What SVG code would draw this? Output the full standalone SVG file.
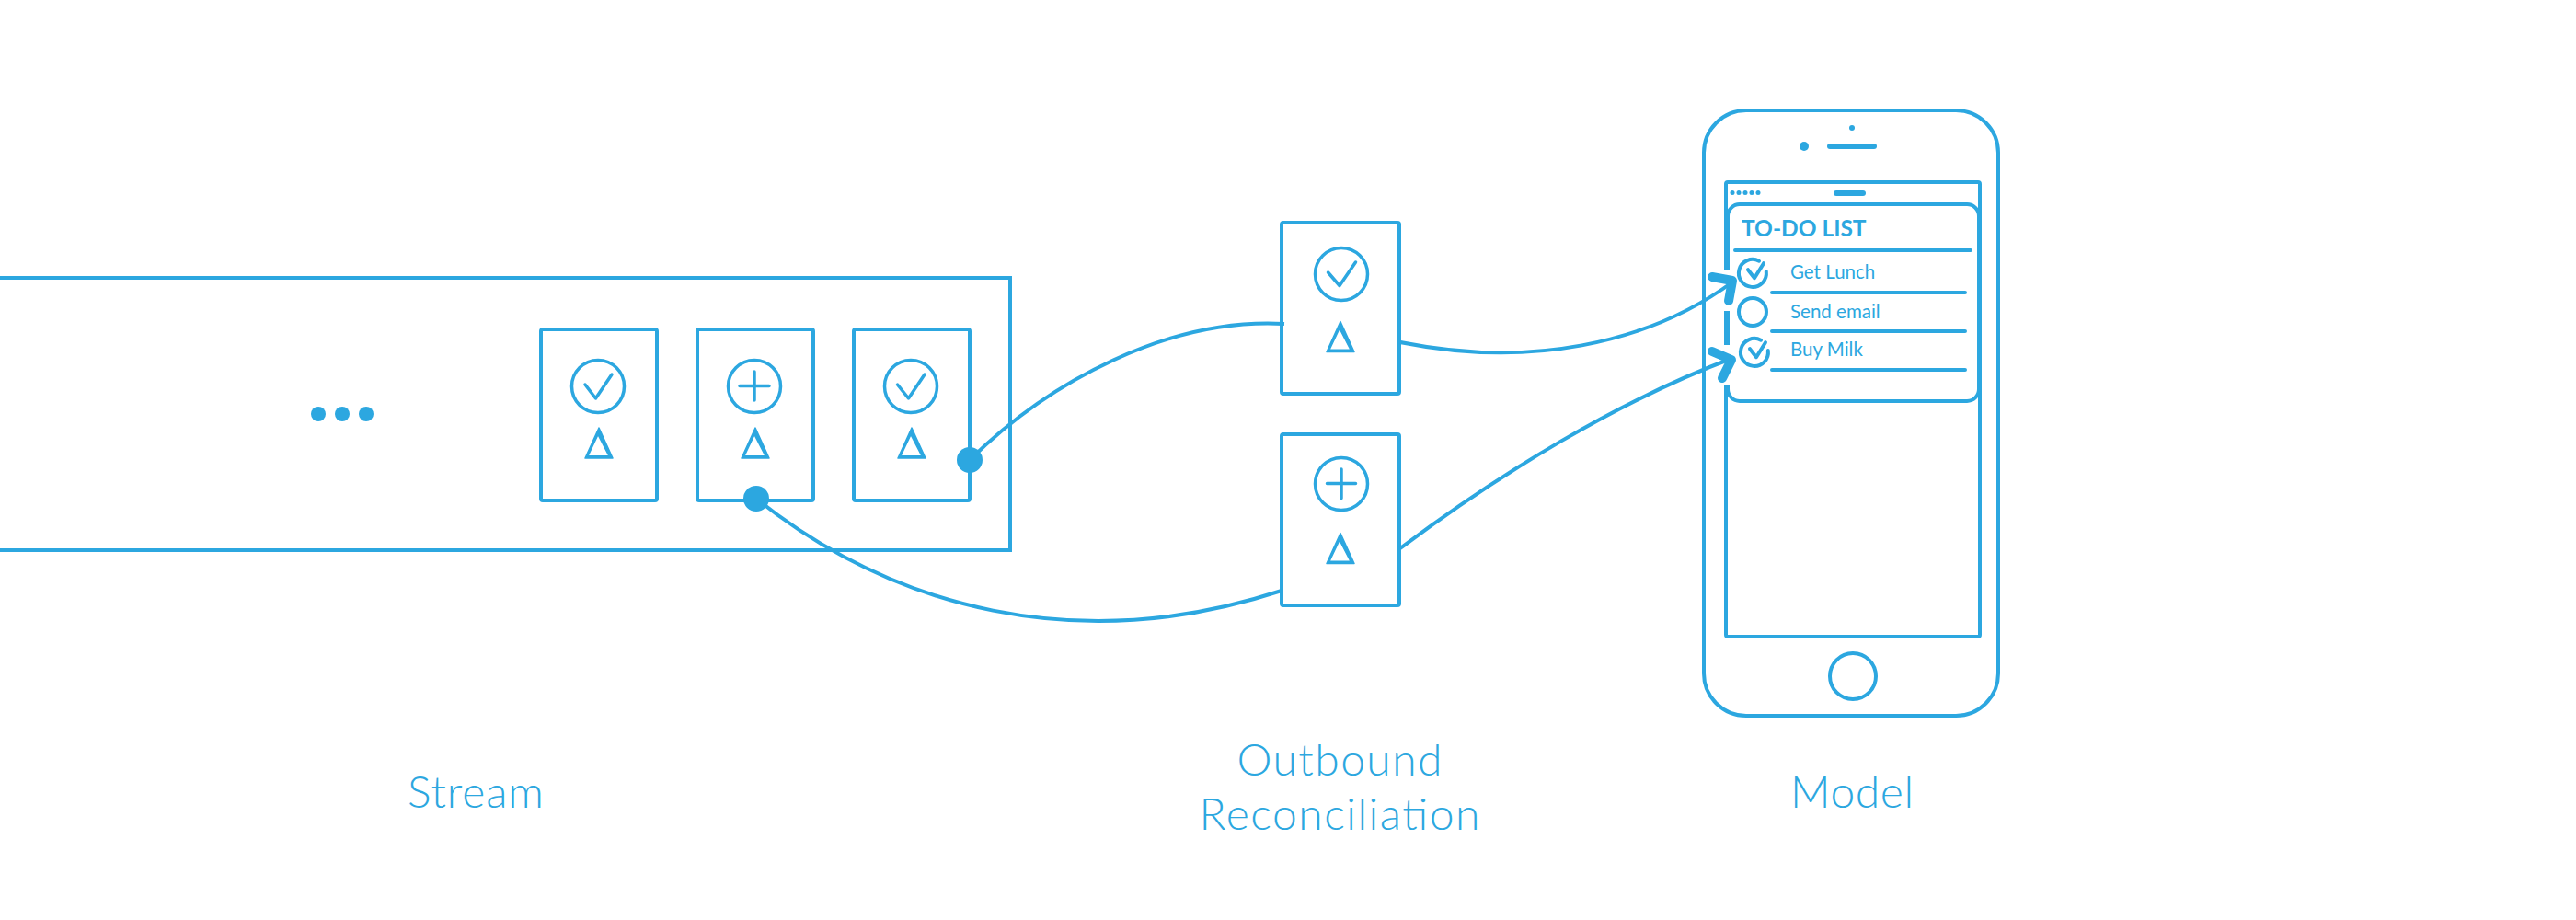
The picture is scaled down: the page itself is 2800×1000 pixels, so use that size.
<svg xmlns="http://www.w3.org/2000/svg" xmlns:xlink="http://www.w3.org/1999/xlink" width="2800" height="1000" viewBox="0 0 2800 1000">
<style>
.s{fill:none;stroke:#2ca7e0;stroke-width:4;stroke-linecap:round;stroke-linejoin:round}
.t3{stroke-width:3.5}
.f{fill:#2ca7e0}
.lbl{font-family:"Lato","Noto Sans",sans-serif;font-weight:300;font-size:48px;fill:#2ca7e0;text-anchor:middle}
.item{font-family:"Lato","Noto Sans",sans-serif;font-weight:400;font-size:20.5px;fill:#2ca7e0}
.head{font-family:"Lato","Noto Sans",sans-serif;font-weight:700;font-size:24.5px;fill:#2ca7e0}
.conn{fill:none;stroke:#2ca7e0;stroke-width:4;stroke-linecap:butt}
.arrow{fill:none;stroke:#2ca7e0;stroke-width:10;stroke-linecap:round;stroke-linejoin:round}
</style>
<defs>
<path id="tri" class="f" fill-rule="evenodd" stroke="#2ca7e0" stroke-width="1.5" stroke-linejoin="round" d="M0 0L-15 33H15Z M-1 7.500L-12 30.700H11Z"/>
<path id="tick" class="s" d="M0 0A15 15 0 1 0 7.800 11.300M-12 9.500L-5 18.500L5 2.500"/>
</defs>
<rect width="2800" height="1000" fill="#fff"/>
<g id="stream">
<path class="s" style="stroke-linejoin:miter" d="M-5 302H1098V598H-5"/>
<circle class="f" cx="346" cy="450" r="8"/><circle class="f" cx="372" cy="450" r="8"/><circle class="f" cx="398" cy="450" r="8"/>
</g>
<g id="stream-item-1">
<rect class="s" x="588" y="358" width="126" height="186" rx="2"/>
<circle class="s t3" cx="650" cy="420" r="28.500"/>
<path class="s t3" d="M636 418L647.500 433L665 407"/>
<use xlink:href="#tri" href="#tri" x="651" y="465"/>
</g>
<g id="stream-item-2">
<rect class="s" x="758" y="358" width="126" height="186" rx="2"/>
<circle class="s t3" cx="820" cy="420" r="28.500"/>
<path class="s t3" d="M804 419.500H836M820 404V435"/>
<use xlink:href="#tri" href="#tri" x="821" y="465"/>
</g>
<g id="stream-item-3">
<rect class="s" x="928" y="358" width="126" height="186" rx="2"/>
<circle class="s t3" cx="990" cy="420" r="28.500"/>
<path class="s t3" d="M975.500 418L987.500 433L1005 407"/>
<use xlink:href="#tri" href="#tri" x="991" y="465"/>
</g>
<g id="reconcile-1">
<rect class="s" x="1393" y="242" width="128" height="186" rx="2"/>
<circle class="s t3" cx="1458" cy="298" r="28.500"/>
<path class="s t3" d="M1443.500 296L1456 310.500L1473.500 285"/>
<use xlink:href="#tri" href="#tri" x="1457" y="349.500"/>
</g>
<g id="reconcile-2">
<rect class="s" x="1393" y="472" width="128" height="186" rx="2"/>
<circle class="s t3" cx="1458" cy="526" r="28.500"/>
<path class="s t3" d="M1442.500 525.500H1473.500M1458 510V541.500"/>
<use xlink:href="#tri" href="#tri" x="1457" y="579.500"/>
</g>
<g id="phone">
<rect class="s" x="1852" y="120" width="320" height="658" rx="46"/>
<circle class="f" cx="1961" cy="159" r="5"/>
<path class="s" style="stroke-width:6" d="M1989 159H2037"/>
<circle class="f" cx="2013" cy="139" r="3"/>
<rect class="s" x="1876" y="198" width="276" height="494" rx="2"/>
<circle class="f" cx="1883" cy="209.500" r="2.500"/><circle class="f" cx="1890" cy="209.500" r="2.500"/><circle class="f" cx="1897" cy="209.500" r="2.500"/><circle class="f" cx="1904" cy="209.500" r="2.500"/><circle class="f" cx="1911" cy="209.500" r="2.500"/>
<path class="s" style="stroke-width:6" d="M1996 210H2025"/>
<rect class="s" x="1878" y="222" width="273" height="214" rx="13"/>
<rect x="1873" y="293" width="8" height="45" fill="#fff"/>
<rect x="1873" y="375" width="8" height="44" fill="#fff"/>
<text class="head" x="1893" y="257">TO-DO LIST</text>
<path class="s" d="M1886 272H2142M1926 318H2136M1926 360H2136M1926 402H2136"/>
<use xlink:href="#tick" href="#tick" x="1912" y="283.700"/>
<circle class="s" cx="1905" cy="339" r="15"/>
<use xlink:href="#tick" href="#tick" x="1914" y="369.700"/>
<text class="item" x="1946" y="303">Get Lunch</text>
<text class="item" x="1946" y="346">Send email</text>
<text class="item" x="1946" y="387">Buy Milk</text>
<circle class="s" cx="2014" cy="735" r="25"/>
</g>
<g id="connectors">
<path class="conn" d="M1054 500C1140 415 1270 345 1396 352"/>
<path class="conn" d="M822 542C970 660 1170 715 1393 642"/>
<path class="conn" d="M1522 372C1660 400 1790 375 1884 306"/>
<path class="conn" d="M1522 596C1630 515 1760 435 1884 389"/>
<path class="arrow" d="M1861 301L1883 305L1879 327"/>
<path class="arrow" d="M1861 382L1882 391L1872 411"/>
<circle class="f" cx="1054" cy="500" r="14"/>
<circle class="f" cx="822" cy="542" r="14"/>
</g>
<g id="labels">
<text class="lbl" x="517" y="878" textLength="148">Stream</text>
<text class="lbl" x="1456" y="843" textLength="223">Outbound</text>
<text class="lbl" x="1456" y="902" textLength="305">Reconciliation</text>
<text class="lbl" x="2013" y="878" textLength="134">Model</text>
</g>
</svg>
